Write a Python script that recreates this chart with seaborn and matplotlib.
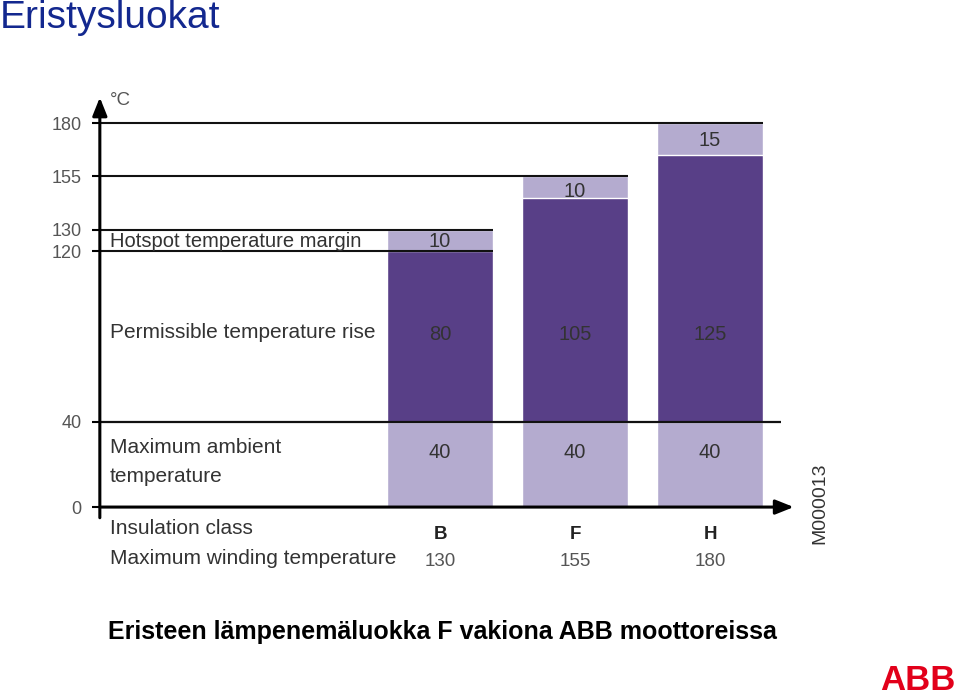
import matplotlib
matplotlib.use("Agg")
import matplotlib.pyplot as plt
import seaborn as sns
import pandas as pd

# ---- data ----
classes = ["B", "F", "H"]
ambient = [40, 40, 40]
rise = [80, 105, 125]
margin = [10, 10, 15]
max_winding = [130, 155, 180]
y_ticks = [0, 40, 120, 130, 155, 180]

title = "Eristysluokat"
subtitle = "Eristeen lämpenemäluokka F vakiona ABB moottoreissa"
lbl_margin = "Hotspot temperature margin"
lbl_rise = "Permissible temperature rise"
lbl_ambient = ["Maximum ambient", "temperature"]
lbl_class = "Insulation class"
lbl_winding = "Maximum winding temperature"

# ---- styles ----
DARK = "#583f87"
LIGHT = "#b4abcf"
TXT = "#333333"
GRAY = "#555555"
FONT = ["Liberation Sans", "DejaVu Sans"]

sns.set_theme(style="white")
plt.rcParams["font.family"] = FONT

df = pd.DataFrame({"cls": classes, "amb": ambient, "rise": rise, "margin": margin})
df["mid"] = df["amb"] + df["rise"]
df["top"] = df["mid"] + df["margin"]

fig = plt.figure(figsize=(9.6, 6.97), dpi=100)
ax = fig.add_axes([0.104, 0.2572, 0.7228, 0.603])

W = 0.79
sns.barplot(data=df, x="cls", y="top", color=LIGHT, width=W, saturation=1, ax=ax, zorder=1)
sns.barplot(data=df, x="cls", y="mid", color=DARK, width=W, saturation=1, ax=ax, zorder=1)
sns.barplot(data=df, x="cls", y="amb", color=LIGHT, width=W, saturation=1, ax=ax, zorder=1)

XL, XR = -2.52, 2.62
ax.set_xlim(XL, XR)
ax.set_ylim(-5, 192)
ax.set_xlabel("")
ax.set_ylabel("")
ax.set_xticks([])
ax.set_yticks(y_ticks)
ax.tick_params(axis="y", left=True, length=6, width=1.5, color="black", pad=7,
               labelsize=13, labelcolor=GRAY)
for s in ax.spines.values():
    s.set_visible(False)

# horizontal reference lines
n = len(classes)
for i, v in enumerate(max_winding):
    ax.hlines(v, XL, i + W / 2, color="#111111", lw=1.5, zorder=3)
ax.hlines(df["mid"][0], XL, 0 + W / 2, color="#111111", lw=1.5, zorder=3)
ax.hlines(ambient[0], XL, n - 1 + W / 2 + 0.13, color="#111111", lw=1.6, zorder=3)

# axes arrows
arr = dict(arrowstyle="-|>,head_length=0.55,head_width=0.22", lw=2.2, color="black",
           mutation_scale=20, shrinkA=0, shrinkB=0)
ax.annotate("", xy=(XL, 192), xytext=(XL, -5), arrowprops=arr, annotation_clip=False, zorder=4)
ax.annotate("", xy=(XR, 0), xytext=(XL, 0), arrowprops=arr, annotation_clip=False, zorder=4)

ax.text(XL + 0.075, 190.5, "°C", fontsize=13.5, color=GRAY, va="center", ha="left")

# left-side labels (baseline positioned)
LX = XL + 0.075
fs = 15
kw = dict(fontsize=fs, color=TXT, va="baseline", ha="left", clip_on=False)
ax.text(LX, 121.8, lbl_margin, fontsize=14.5, color=TXT, va="baseline", ha="left")
ax.text(LX, 79.2, lbl_rise, **kw)
ax.text(LX, 25.3, lbl_ambient[0], **kw)
ax.text(LX, 11.9, lbl_ambient[1], **kw)
ax.text(LX, -12.7, lbl_class, **kw)
ax.text(LX, -26.7, lbl_winding, **kw)

# values in bars
margin_base = [122.0, 145.5, 169.2]
for i in range(n):
    vk = dict(fontsize=14.5, color=TXT, ha="center", va="baseline", zorder=5)
    ax.text(i, 23.0, str(ambient[i]), **vk)
    ax.text(i, 78.3, str(rise[i]), **vk)
    ax.text(i, margin_base[i], str(margin[i]), **vk)
    ax.text(i, -15.0, classes[i], fontsize=13.5, color="#222222", fontweight="bold",
            ha="center", va="baseline", clip_on=False)
    ax.text(i, -27.5, str(max_winding[i]), fontsize=13.5, color=GRAY,
            ha="center", va="baseline", clip_on=False)

# figure code rotated
fig.text(820 / 960, 1 - 503 / 697, "M000013", rotation=90, fontsize=14, color=TXT,
         ha="center", va="center")

# titles
fig.text(0.0, 1 - 28 / 697, title, fontsize=28, color="#13288f", ha="left", va="baseline")
fig.text(108 / 960, 1 - 639 / 697, subtitle, fontsize=18, fontweight="bold", color="black",
         ha="left", va="baseline")

# ABB logo text
fig.text(956 / 960, 1 - 690 / 697, "ABB", fontsize=25, fontweight="bold", color="#e2001a",
         ha="right", va="baseline")

fig.savefig("out.png", dpi=100)
